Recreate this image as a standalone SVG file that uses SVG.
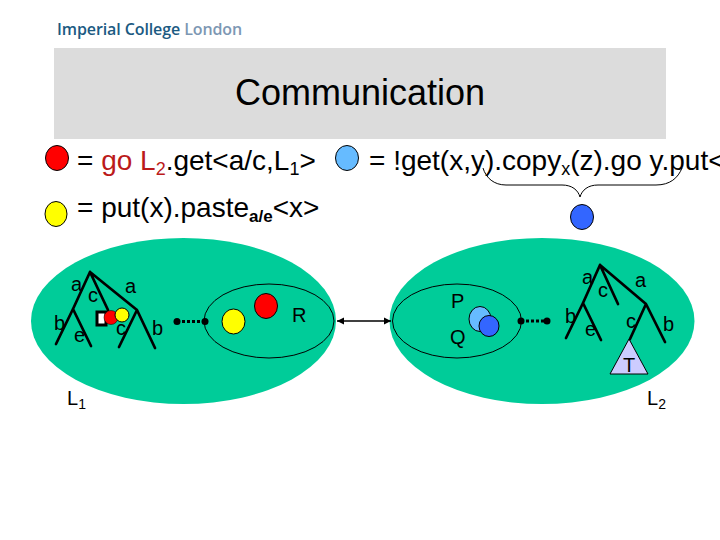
<svg xmlns="http://www.w3.org/2000/svg" width="720" height="540" viewBox="0 0 720 540">
<style>
text{font-family:"Liberation Sans",Arial,sans-serif;fill:#000}
.big{font-size:28px}
.lab{font-size:20px}
.sub{font-size:18px}
.tree{fill:none;stroke:#000;stroke-width:2.7;stroke-linecap:round;stroke-linejoin:round}
.thin{fill:none;stroke:#000;stroke-width:1}
.dot{fill:#000;stroke:none}
.dash{stroke:#000;stroke-width:3;stroke-dasharray:3 2;fill:none}
.red{fill:#ff0000;stroke:#000;stroke-width:1}
.yel{fill:#ffff00;stroke:#000;stroke-width:1}
.lb{fill:#66bbff;stroke:#000;stroke-width:1}
.blu{fill:#3366ff;stroke:#000;stroke-width:1}
.loc{fill:#00cc99}
</style>
<defs>
<marker id="ah" markerWidth="8" markerHeight="8" refX="7" refY="4" orient="auto-start-reverse" markerUnits="userSpaceOnUse"><path d="M0 0.5L7 4L0 7.5Z" fill="#000"/></marker>
</defs>
<rect width="720" height="540" fill="#fff"/>
<g id="logo">
<text x="57" y="35" style="font-family:'Open Sans','Liberation Sans',sans-serif;fill:#1b5a82;font-size:16px;font-weight:600;letter-spacing:-0.1px">Imperial College <tspan style="fill:#7d97b3">London</tspan></text>
</g>
<g id="title">
<rect x="54" y="48" width="612" height="91" fill="#dcdcdc"/>
<text x="360" y="105" text-anchor="middle" style="font-size:36px">Communication</text>
</g>
<g id="legend">
<ellipse class="red" cx="57" cy="158" rx="11.5" ry="12.5"/>
<text class="big" x="77" y="170">= <tspan style="fill:#bb1a1a">go L<tspan class="sub" dy="5">2</tspan></tspan><tspan dy="-5">.get&lt;a/c,L</tspan><tspan class="sub" dy="5">1</tspan><tspan dy="-5">&gt;</tspan></text>
<ellipse class="lb" cx="347" cy="158" rx="11.5" ry="12.5"/>
<text class="big" x="369" y="170">= !get(x,y).copy<tspan class="sub" dy="5">x</tspan><tspan dy="-5">(z).go y.put&lt;</tspan></text>
<ellipse class="yel" cx="56" cy="214" rx="11" ry="12.5"/>
<text class="big" x="77" y="217">= put(x).paste<tspan class="sub" dy="5" style="font-size:17px;font-weight:bold">a/e</tspan><tspan dy="-5">&lt;x&gt;</tspan></text>
</g>
<g id="brace">
<path class="thin" d="M483 168C486 178 494 185 506 185H562C572 185 578 190 580 197C582 190 588 185 598 185H656C670 185 678 178 682 168"/>
<ellipse class="blu" cx="582" cy="217" rx="11.5" ry="12.5"/>
</g>
<g id="L1">
<ellipse class="loc" cx="183.5" cy="321" rx="152.5" ry="83"/>
<ellipse class="thin" cx="269" cy="321" rx="65" ry="37"/>
</g>
<g id="L2">
<ellipse class="loc" cx="542" cy="321" rx="152.5" ry="83"/>
<ellipse class="thin" cx="457" cy="321" rx="64.5" ry="37"/>
</g>
<g id="connectors">
<line x1="337" y1="321" x2="391" y2="321" stroke="#000" stroke-width="1.5" marker-start="url(#ah)" marker-end="url(#ah)"/>
<line class="dash" x1="177" y1="321.5" x2="205" y2="321.5"/>
<circle class="dot" cx="177" cy="321.5" r="3.5"/>
<circle class="dot" cx="205" cy="321.5" r="3.5"/>
<line class="dash" x1="521" y1="321" x2="547" y2="321"/>
<circle class="dot" cx="521" cy="321" r="3.5"/>
<circle class="dot" cx="547" cy="321" r="3.5"/>
</g>
<g id="tree-left">
<path class="tree" d="M56 344L73 309L90 272L137 310L119 347M73 309L91 346M90 272L108 310M137 310L155 348"/>
<rect x="97" y="312" width="9" height="13" fill="#fff" stroke="#000" stroke-width="3"/>
<circle cx="111" cy="317.500" r="7" fill="#ff0000" stroke="#000" stroke-width="0.5"/>
<circle class="yel" cx="122" cy="315" r="7"/>
<text class="lab" x="71" y="291">a</text>
<text class="lab" x="88" y="302">c</text>
<text class="lab" x="125" y="293">a</text>
<text class="lab" x="54" y="330">b</text>
<text class="lab" x="74" y="342">e</text>
<text class="lab" x="116" y="335">c</text>
<text class="lab" x="152" y="335">b</text>
<text class="lab" x="67" y="405">L<tspan style="font-size:14px" dy="4">1</tspan></text>
</g>
<g id="R">
<ellipse class="yel" cx="233.500" cy="321.500" rx="11.500" ry="12.500"/>
<ellipse class="red" cx="266" cy="306" rx="11.500" ry="12.500"/>
<text class="lab" x="292" y="322">R</text>
</g>
<g id="PQ">
<text class="lab" x="451" y="308">P</text>
<text class="lab" x="450" y="344">Q</text>
<ellipse class="lb" cx="480" cy="319" rx="11" ry="12.500"/>
<ellipse class="blu" cx="489" cy="326" rx="10" ry="10.500"/>
</g>
<g id="tree-right">
<polygon points="629,339 610,374 648,374" fill="#ccccff" stroke="#000" stroke-width="1"/>
<path class="tree" d="M566 338L583 303L600 265L646 304L630 339M583 303L601 340M600 265L618 304M646 304L665 342"/>
<text class="lab" x="582" y="284">a</text>
<text class="lab" x="598" y="297">c</text>
<text class="lab" x="635" y="287">a</text>
<text class="lab" x="565" y="323">b</text>
<text class="lab" x="585" y="336">e</text>
<text class="lab" x="626" y="328">c</text>
<text class="lab" x="663" y="331">b</text>
<text class="lab" x="623" y="372">T</text>
<text class="lab" x="647" y="405">L<tspan style="font-size:14px" dy="4">2</tspan></text>
</g>
</svg>
